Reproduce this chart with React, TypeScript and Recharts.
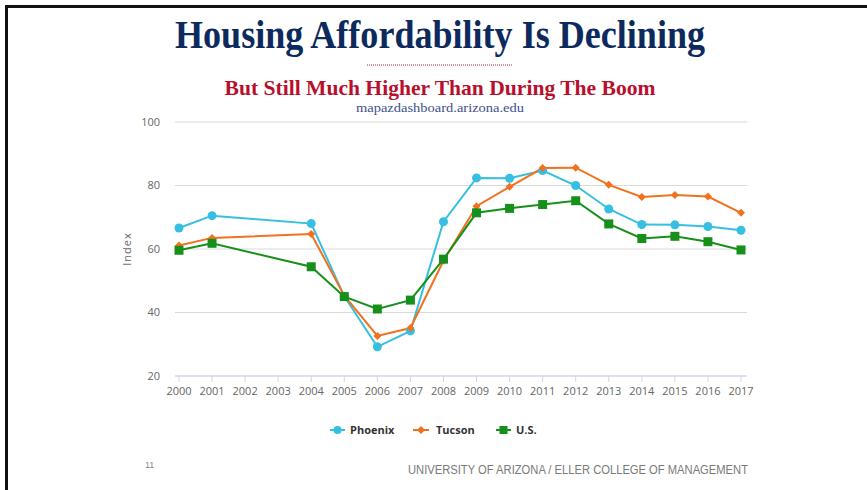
import React from "react";
import { LineChart, Line, XAxis, YAxis, CartesianGrid } from "recharts";

const years = [2000, 2001, 2004, 2005, 2006, 2007, 2008, 2009, 2010, 2011, 2012, 2013, 2014, 2015, 2016, 2017];
const phoenix = [66.6, 70.5, 68.0, 45.1, 29.2, 34.2, 68.6, 82.4, 82.3, 84.7, 80.0, 72.6, 67.7, 67.6, 67.1, 65.9];
const tucson = [61.1, 63.5, 64.7, 45.3, 32.6, 35.1, 56.3, 73.5, 79.6, 85.5, 85.6, 80.2, 76.4, 77.0, 76.5, 71.4];
const us = [59.6, 61.8, 54.4, 45.0, 41.1, 43.9, 56.8, 71.4, 72.8, 74.0, 75.2, 67.9, 63.3, 64.0, 62.3, 59.7];
const xTicks = [2000, 2001, 2002, 2003, 2004, 2005, 2006, 2007, 2008, 2009, 2010, 2011, 2012, 2013, 2014, 2015, 2016, 2017];
const yTicks = [20, 40, 60, 80, 100];

const data = years.map((y, i) => ({ year: y, phoenix: phoenix[i], tucson: tucson[i], us: us[i] }));

const C_PHX = "#36bfe0";
const C_TUC = "#f2711c";
const C_US = "#16901a";

const Diamond = (props: any) => {
  const { cx, cy } = props;
  if (cx == null || cy == null) return null;
  const r = 4;
  return <path d={`M${cx},${cy - r}L${cx + r},${cy}L${cx},${cy + r}L${cx - r},${cy}Z`} fill={C_TUC} />;
};
const Square = (props: any) => {
  const { cx, cy } = props;
  if (cx == null || cy == null) return null;
  const s = 4.5;
  return <rect x={cx - s} y={cy - s} width={2 * s} height={2 * s} fill={C_US} />;
};
const Circle = (props: any) => {
  const { cx, cy } = props;
  if (cx == null || cy == null) return null;
  return <circle cx={cx} cy={cy} r={4.5} fill={C_PHX} />;
};

export default function App() {
  return (
    <div style={{ position: "absolute", left: 0, top: 0, width: 867, height: 490, background: "#fff", overflow: "hidden" }}>
      <svg width={867} height={490} style={{ position: "absolute", left: 0, top: 0 }}>
        <rect x={5} y={5} width={862} height={3} fill="#111" />
        <rect x={5} y={5} width={3} height={485} fill="#111" />
        <text x={440} y={48} textAnchor="middle" fontFamily="'Liberation Serif', 'Times New Roman', serif" fontWeight="bold" fontSize={40} fill="#0d2a5e" textLength={530} lengthAdjust="spacingAndGlyphs">Housing Affordability Is Declining</text>
        <line x1={367} y1={65} x2={513} y2={65} stroke="#c0233a" strokeWidth={1} strokeDasharray="1 1" />
        <text x={440} y={95} textAnchor="middle" fontFamily="'Liberation Serif', 'Times New Roman', serif" fontWeight="bold" fontSize={22} fill="#b8102c" textLength={431} lengthAdjust="spacingAndGlyphs">But Still Much Higher Than During The Boom</text>
        <text x={440} y={112} textAnchor="middle" fontFamily="'Liberation Serif', 'Times New Roman', serif" fontSize={13} fill="#3d4f8c" textLength={168} lengthAdjust="spacingAndGlyphs">mapazdashboard.arizona.edu</text>
        <g fontFamily="'Open Sans', 'Noto Sans', sans-serif" fontWeight="bold" fontSize={11} fill="#333">
          <line x1={330} y1={430} x2={345} y2={430} stroke={C_PHX} strokeWidth={2} />
          <circle cx={337.5} cy={430} r={4} fill={C_PHX} />
          <text x={350} y={434}>Phoenix</text>
          <line x1={413} y1={430} x2={429} y2={430} stroke={C_TUC} strokeWidth={2} />
          <path d="M421,426L425,430L421,434L417,430Z" fill={C_TUC} />
          <text x={436} y={434}>Tucson</text>
          <line x1={496} y1={430} x2={511} y2={430} stroke={C_US} strokeWidth={2} />
          <rect x={499.5} y={426} width={8} height={8} fill={C_US} />
          <text x={516} y={434}>U.S.</text>
        </g>
        <text x={145} y={468} fontFamily="'Liberation Sans Narrow', 'Liberation Sans', sans-serif" fontSize={9} fill="#888">11</text>
        <text x={408} y={474} fontFamily="'Liberation Sans Narrow', 'Liberation Sans', sans-serif" fontSize={12} fill="#7a7a7a" textLength={340} lengthAdjust="spacingAndGlyphs">UNIVERSITY OF ARIZONA / ELLER COLLEGE OF MANAGEMENT</text>
      </svg>
      <div style={{ position: "absolute", left: 0, top: 0 }}>
        <LineChart width={867} height={490} data={data} margin={{ top: 122, right: 120, bottom: 84, left: 115 }}>
          <CartesianGrid vertical={false} stroke="#d9d9d9" />
          <XAxis
            dataKey="year"
            type="number"
            domain={[2000, 2017]}
            ticks={xTicks}
            interval={0}
            padding={{ left: 4, right: 6 }}
            height={30}
            tickSize={6}
            tickMargin={5}
            axisLine={{ stroke: "#ccd6eb" }}
            tickLine={{ stroke: "#ccd6eb" }}
            tick={{ fill: "#666", fontSize: 11, fontFamily: "'Open Sans', 'Noto Sans', sans-serif" }}
          />
          <YAxis
            width={60}
            domain={[20, 100]}
            ticks={yTicks}
            axisLine={false}
            tickLine={false}
            tickSize={0}
            tickMargin={15}
            tick={{ fill: "#666", fontSize: 11, fontFamily: "'Open Sans', 'Noto Sans', sans-serif" }}
            label={{ value: "Index", angle: -90, position: "insideLeft", offset: 12, style: { fill: "#666", fontSize: 11, letterSpacing: 1, fontFamily: "'Open Sans', 'Noto Sans', sans-serif", textAnchor: "middle" } }}
          />
          <Line dataKey="phoenix" stroke={C_PHX} strokeWidth={2} dot={<Circle />} isAnimationActive={false} />
          <Line dataKey="tucson" stroke={C_TUC} strokeWidth={2} dot={<Diamond />} isAnimationActive={false} />
          <Line dataKey="us" stroke={C_US} strokeWidth={2} dot={<Square />} isAnimationActive={false} />
        </LineChart>
      </div>
    </div>
  );
}
